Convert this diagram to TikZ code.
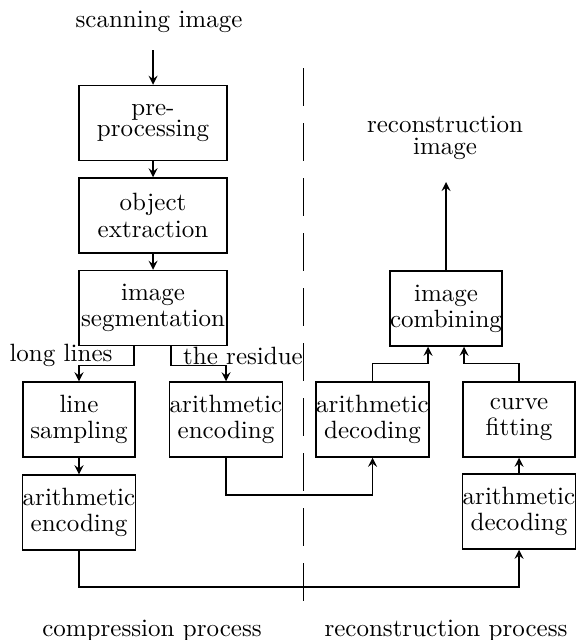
\documentclass[tikz,border=0pt]{standalone}
\usetikzlibrary{positioning, calc, arrows.meta}

\begin{document}
\begin{tikzpicture}[x=0.4pt,y=-0.4pt,semithick,
  box/.style={draw,align=center,inner xsep=0pt,minimum height=30pt,
    font={\fontsize{10}{10.5}\selectfont}},
  wide/.style={box,minimum width=59.2pt},
  narrow/.style={box,minimum width=44.8pt},
  lab/.style={align=center}]
\useasboundingbox (0,0) rectangle (575,640);
% compression side
\node[lab] (scan) at (159,22) {scanning image};
\coordinate (in) at (153,50);
\node[wide] (pre) at (153,123) {pre-\\[-2pt]processing};
\node[wide] (obj) at (153,215.5) {object\\extraction};
\node[wide] (seg) at (153,308) {image\\segmentation};
\node[narrow] (samp) at (79,419.5) {line\\sampling};
\node[narrow] (encL) at (79,512.5) {arithmetic\\encoding};
\node[narrow] (encM) at (226,419.5) {arithmetic\\encoding};
\node[lab] (long) at (61,355) {long lines};
\node[lab] (resid) at (243,356) {the residue};
% reconstruction side
\node[narrow] (decM) at (372.5,419.5) {arithmetic\\decoding};
\node[narrow] (fit) at (519,419.5) {curve\\fitting};
\node[narrow] (decR) at (519,511.5) {arithmetic\\decoding};
\node[narrow] (comb) at (446,308.5) {image\\combining};
\coordinate (out) at (446,182);
\node[lab] (recimg) at (445,138) {reconstruction\\[-3pt]image};
% divider and captions
\draw[thin,dash pattern=on 15pt off 7pt] (303,68)--(303,603);
\node (cap1) at (152,631) {compression process};
\node (cap2) at (446,631) {reconstruction process};
% connectors
\draw[->,>=stealth] (in)--(pre.north);
\draw[->,>=stealth] (pre)--(obj);
\draw[->,>=stealth] (obj)--(seg);
\draw[->,>=stealth] ([xshift=-7.6pt]seg.south)--++(0,19)-|(samp.north);
\draw[->,>=stealth] ([xshift=7.2pt]seg.south)--++(0,19)-|(encM.north);
\draw[->,>=stealth] (samp)--(encL);
\draw[->,>=stealth] (encM.south)--++(0,37)-|(decM.south);
\draw[->,>=stealth] (encL.south)--++(0,36)-|(decR.south);
\draw[->,>=stealth] (decR)--(fit);
\draw[->,>=stealth] (decM.north)--++(0,-18)-|([xshift=-7.2pt]comb.south);
\draw[->,>=stealth] (fit.north)--++(0,-18)-|([xshift=7.2pt]comb.south);
\draw[->,>=stealth] (comb.north)--(out);
\end{tikzpicture}
\end{document}
